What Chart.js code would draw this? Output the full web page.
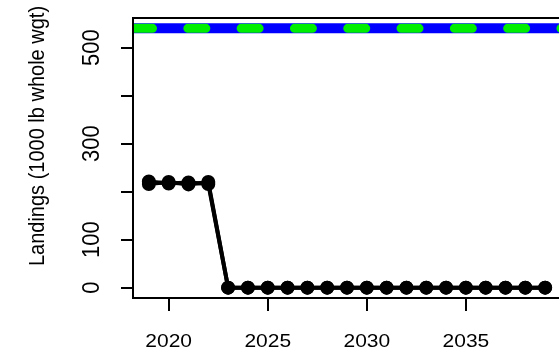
<!DOCTYPE html>
<html lang="en">
<head>
    <meta charset="UTF-8" />
    <title>Landings projection</title>
    <script src="https://cdn.jsdelivr.net/npm/chart.js"></script>
    <style>
        html, body {
            margin: 0;
            padding: 0;
            background: #ffffff;
            overflow: hidden;
        }

        #wrap {
            width: 570px;
            height: 355px;
        }
    </style>
</head>
<body>
    <div id="wrap"><canvas id="landChart"></canvas></div>

    <script>
        // data
        const years = [2019, 2020, 2021, 2022, 2023, 2024, 2025, 2026, 2027, 2028, 2029,
            2030, 2031, 2032, 2033, 2034, 2035, 2036, 2037, 2038, 2039];
        const landingsA = [221, 217, 219, 216, 0, 0, 0, 0, 0, 0, 0, 0, 0, 0, 0, 0, 0, 0, 0, 0, 0];
        const landingsB = [216, 220, 215, 220, 0, 0, 0, 0, 0, 0, 0, 0, 0, 0, 0, 0, 0, 0, 0, 0, 0];
        const refYears = [2018, 2040];
        const refLevel = [540, 540];

        const yTicks = [0, 100, 200, 300, 400, 500];
        const yTickLabels = ['0', '100', '', '300', '', '500'];
        const xTicks = [2020, 2025, 2030, 2035];
        const xTickLabels = ['2020', '2025', '2030', '2035'];
        const yTitle = 'Landings (1000 lb whole wgt)';

        const toPts = (xs, ys) => xs.map((x, i) => ({ x: x, y: ys[i] }));

        // R-style box, ticks and labels
        const baseAxes = {
            id: 'baseAxes',
            afterDraw(chart) {
                const ctx = chart.ctx;
                const a = chart.chartArea;
                const xs = chart.scales.x;
                const ys = chart.scales.y;
                ctx.save();
                ctx.strokeStyle = '#000';
                ctx.fillStyle = '#000';
                ctx.lineWidth = 2;
                ctx.strokeRect(a.left, a.top, a.right - a.left, a.bottom - a.top);

                ctx.beginPath();
                yTicks.forEach(v => {
                    const py = Math.round(ys.getPixelForValue(v));
                    ctx.moveTo(a.left - 12, py);
                    ctx.lineTo(a.left, py);
                });
                xTicks.forEach(v => {
                    const px = Math.round(xs.getPixelForValue(v));
                    ctx.moveTo(px, a.bottom);
                    ctx.lineTo(px, a.bottom + 13);
                });
                ctx.stroke();

                // x labels (a bit squashed, like the source)
                ctx.font = '21px "Liberation Sans", Arial, sans-serif';
                ctx.textAlign = 'center';
                ctx.textBaseline = 'alphabetic';
                xTicks.forEach((v, i) => {
                    const px = xs.getPixelForValue(v);
                    ctx.save();
                    ctx.translate(px, 347);
                    ctx.scale(1, 0.87);
                    ctx.fillText(xTickLabels[i], 0, 0);
                    ctx.restore();
                });

                // y labels, rotated
                ctx.font = '22px "Liberation Sans", Arial, sans-serif';
                yTicks.forEach((v, i) => {
                    if (!yTickLabels[i]) return;
                    const py = ys.getPixelForValue(v);
                    ctx.save();
                    ctx.translate(99, py);
                    ctx.scale(1.05, 1);
                    ctx.rotate(-Math.PI / 2);
                    ctx.fillText(yTickLabels[i], 0, 0);
                    ctx.restore();
                });

                // y title
                ctx.font = '20px "Liberation Sans", Arial, sans-serif';
                ctx.save();
                ctx.translate(44, 136);
                ctx.scale(1.08, 1);
                ctx.rotate(-Math.PI / 2);
                ctx.fillText(yTitle, 0, 0);
                ctx.restore();

                ctx.restore();
            }
        };

        new Chart(document.getElementById('landChart'), {
            type: 'line',
            data: {
                datasets: [
                    {
                        data: toPts(refYears, refLevel),
                        borderColor: '#00ee00',
                        borderWidth: 9,
                        borderDash: [18, 35.3],
                        borderDashOffset: 47.8,
                        borderCapStyle: 'round',
                        pointRadius: 0,
                        clip: 0,
                        order: 0
                    },
                    {
                        data: toPts(refYears, refLevel),
                        borderColor: '#0000ff',
                        borderWidth: 10,
                        pointRadius: 0,
                        clip: 0,
                        order: 1
                    },
                    {
                        data: toPts(years, landingsA),
                        borderColor: '#000',
                        backgroundColor: '#000',
                        borderWidth: 4,
                        borderJoinStyle: 'round',
                        pointRadius: 5,
                        pointBackgroundColor: '#000',
                        pointBorderColor: '#000',
                        order: 2
                    },
                    {
                        data: toPts(years, landingsB),
                        borderColor: '#000',
                        backgroundColor: '#000',
                        borderWidth: 4,
                        borderJoinStyle: 'round',
                        pointRadius: 5,
                        pointBackgroundColor: '#000',
                        pointBorderColor: '#000',
                        order: 3
                    }
                ]
            },
            options: {
                responsive: true,
                maintainAspectRatio: false,
                animation: false,
                layout: {
                    padding: { left: 133, top: 18, right: 9, bottom: 57 }
                },
                scales: {
                    x: { type: 'linear', min: 2018.2, max: 2039.8, display: false },
                    y: { type: 'linear', min: -21.6, max: 561.6, display: false }
                },
                plugins: {
                    legend: { display: false },
                    tooltip: { enabled: false }
                }
            },
            plugins: [baseAxes]
        });
    </script>
</body>
</html>
